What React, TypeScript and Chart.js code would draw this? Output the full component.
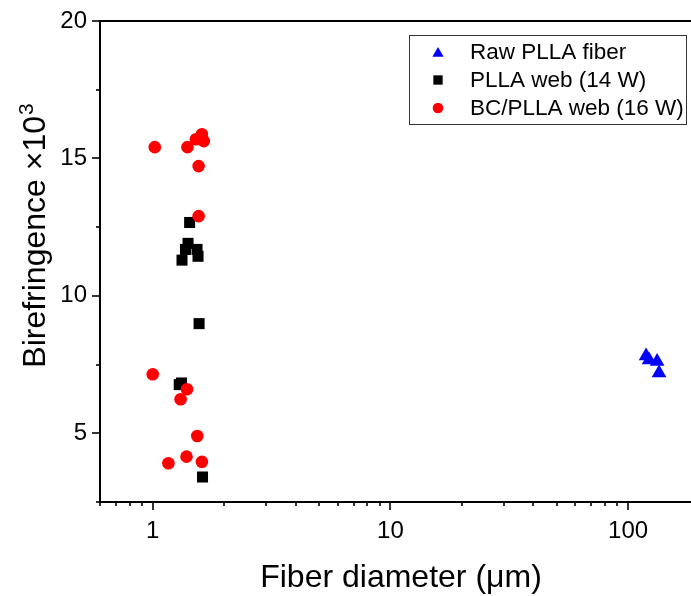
import React, { useEffect, useRef } from 'react';
import { Chart, registerables } from 'chart.js';

Chart.register(...registerables);

// ---- data ----
const rawLabel = 'Raw PLLA fiber';
const rawX = [119.1, 122.6, 132.5, 135.0];
const rawY = [7.81, 7.67, 7.61, 7.19];

const webLabel = 'PLLA web (14 W)';
const webX = [1.43, 1.408, 1.373, 1.536, 1.328, 1.551, 1.567, 1.321, 1.293, 1.62];
const webY = [12.67, 11.91, 11.69, 11.69, 11.3, 11.44, 8.99, 6.83, 6.77, 3.41];

const bcLabel = 'BC/PLLA web (16 W)';
const bcX = [1.02, 1.4, 1.52, 1.61, 1.64, 1.56, 1.56, 1.0, 1.394, 1.31, 1.54, 1.387, 1.164, 1.61];
const bcY = [15.41, 15.41, 15.7, 15.88, 15.63, 14.72, 12.9, 7.15, 6.6, 6.24, 4.9, 4.15, 3.91, 3.96];

const xMajorTicks = [1, 10, 100];
const xMinorTicks = [0.6, 0.7, 0.8, 0.9, 2, 3, 4, 5, 6, 7, 8, 9, 20, 30, 40, 50, 60, 70, 80, 90];
const yMajorTicks = [5, 10, 15, 20];
const yMinorTicks = [2.5, 7.5, 12.5, 17.5];
const xMin = 0.6;
const xMax = 184;
const yMin = 2.5;
const yMax = 20;

const xTitle = 'Fiber diameter (\u03BCm)';
const yTitle = 'Birefringence \u00D710';
const yTitleSup = '3';

const FONT = '"Liberation Sans", Arial, sans-serif';

function drawMarker(ctx: CanvasRenderingContext2D, style: string, x: number, y: number, r: number, color: string) {
  ctx.fillStyle = color;
  ctx.beginPath();
  if (style === 'triangle') {
    ctx.moveTo(x, y - r);
    ctx.lineTo(x + r * Math.sin((2 * Math.PI) / 3), y - r * Math.cos((2 * Math.PI) / 3));
    ctx.lineTo(x + r * Math.sin((4 * Math.PI) / 3), y - r * Math.cos((4 * Math.PI) / 3));
    ctx.closePath();
  } else if (style === 'rect') {
    const s = r * Math.SQRT1_2;
    ctx.rect(x - s, y - s, 2 * s, 2 * s);
  } else {
    ctx.arc(x, y, r, 0, Math.PI * 2);
  }
  ctx.fill();
}

const decorPlugin = {
  id: 'decor',
  afterDraw(chart: any) {
    const ctx: CanvasRenderingContext2D = chart.ctx;
    const { left, right, top, bottom } = chart.chartArea;
    const xs = chart.scales.x;
    const ys = chart.scales.y;
    ctx.save();
    ctx.strokeStyle = '#000';
    // top frame line
    ctx.lineWidth = 2;
    ctx.beginPath();
    ctx.moveTo(left - 1, top);
    ctx.lineTo(right, top);
    ctx.stroke();

    // tick marks
    ctx.lineWidth = 1.6;
    const xTick = (v: number, len: number) => {
      if (v < xMin - 1e-9 || v > xMax) return;
      const p = Math.round(xs.getPixelForValue(v));
      ctx.beginPath();
      ctx.moveTo(p, bottom);
      ctx.lineTo(p, bottom + len);
      ctx.stroke();
    };
    const yTick = (v: number, len: number) => {
      const p = Math.round(ys.getPixelForValue(v));
      ctx.beginPath();
      ctx.moveTo(left, p);
      ctx.lineTo(left - len, p);
      ctx.stroke();
    };
    xMajorTicks.forEach((v) => xTick(v, 8));
    xMinorTicks.forEach((v) => xTick(v, 4));
    yMajorTicks.forEach((v) => yTick(v, 8));
    yMinorTicks.forEach((v) => yTick(v, 4));

    // axis titles
    ctx.fillStyle = '#000';
    ctx.font = `32px ${FONT}`;
    ctx.textAlign = 'center';
    ctx.textBaseline = 'alphabetic';
    ctx.fillText(xTitle, 401, 587);

    ctx.save();
    ctx.translate(45, 236);
    ctx.rotate(-Math.PI / 2);
    ctx.textAlign = 'left';
    ctx.font = `32px ${FONT}`;
    const w1 = ctx.measureText(yTitle).width;
    ctx.font = `21px ${FONT}`;
    const w2 = ctx.measureText(yTitleSup).width;
    const start = -(w1 + w2) / 2;
    ctx.font = `32px ${FONT}`;
    ctx.fillText(yTitle, start, 0);
    ctx.font = `21px ${FONT}`;
    ctx.fillText(yTitleSup, start + w1 + 1, -12);
    ctx.restore();

    // legend
    ctx.lineWidth = 1;
    ctx.strokeStyle = '#333';
    ctx.strokeRect(409.5, 35.5, 277, 89);
    const rows = [52, 80, 108];
    ctx.font = `22.5px ${FONT}`;
    ctx.textAlign = 'left';
    ctx.textBaseline = 'middle';
    chart.data.datasets.forEach((ds: any, i: number) => {
      const y = rows[i];
      const r = ds.pointStyle === 'rect' ? 6.6 : ds.pointStyle === 'triangle' ? 6.5 : 5.3;
      drawMarker(ctx, ds.pointStyle, 438, y + (ds.pointStyle === 'triangle' ? 1.5 : 0), r, ds.backgroundColor);
      ctx.fillStyle = '#000';
      ctx.fillText(ds.label, 470, y + 1);
    });
    ctx.restore();
  },
};

export default function App() {
  const ref = useRef<HTMLCanvasElement>(null);
  useEffect(() => {
    if (!ref.current) return;
    const pts = (xs: number[], ys: number[]) => xs.map((x, i) => ({ x, y: ys[i] }));
    const chart = new Chart(ref.current, {
      type: 'scatter',
      data: {
        datasets: [
          {
            label: rawLabel,
            data: pts(rawX, rawY),
            pointStyle: 'triangle',
            pointRadius: 8.5,
            backgroundColor: '#0000ff',
            pointBackgroundColor: '#0000ff',
            pointBorderWidth: 0,
            borderWidth: 0,
            order: 2,
          },
          {
            label: webLabel,
            data: pts(webX, webY),
            pointStyle: 'rect',
            pointRadius: 7.8,
            backgroundColor: '#000000',
            pointBackgroundColor: '#000000',
            pointBorderWidth: 0,
            borderWidth: 0,
            order: 1,
          },
          {
            label: bcLabel,
            data: pts(bcX, bcY),
            pointStyle: 'circle',
            pointRadius: 6.3,
            backgroundColor: '#ff0000',
            pointBackgroundColor: '#ff0000',
            pointBorderWidth: 0,
            borderWidth: 0,
            order: 0,
          },
        ],
      } as any,
      options: {
        animation: false,
        responsive: false,
        events: [],
        layout: { autoPadding: false, padding: { top: 21, left: 0, right: 0, bottom: 0 } },
        plugins: { legend: { display: false }, tooltip: { enabled: false } },
        scales: {
          x: {
            type: 'logarithmic',
            position: 'bottom',
            min: xMin,
            max: xMax,
            grid: { display: false, drawTicks: false },
            border: { display: true, color: '#000', width: 2 },
            ticks: {
              color: '#000',
              font: { size: 24, family: FONT },
              padding: 15,
              autoSkip: false,
              maxRotation: 0,
              callback: (v: any) => String(v),
            },
            afterBuildTicks: (s: any) => {
              s.ticks = xMajorTicks.map((v) => ({ value: v }));
            },
            afterFit: (s: any) => {
              s.height = 94;
              s.paddingLeft = 0;
              s.paddingRight = 0;
              s.paddingTop = 0;
              s.paddingBottom = 0;
            },
          },
          y: {
            type: 'linear',
            position: 'left',
            min: yMin,
            max: yMax,
            grid: { display: false, drawTicks: false },
            border: { display: true, color: '#000', width: 2 },
            ticks: {
              color: '#000',
              font: { size: 24, family: FONT },
              padding: 13,
              autoSkip: false,
              callback: (v: any) => String(v),
            },
            afterBuildTicks: (s: any) => {
              s.ticks = yMajorTicks.map((v) => ({ value: v }));
            },
            afterFit: (s: any) => {
              s.width = 100;
              s.paddingLeft = 0;
              s.paddingRight = 0;
              s.paddingTop = 0;
              s.paddingBottom = 0;
            },
          },
        },
      } as any,
      plugins: [decorPlugin],
    });
    return () => chart.destroy();
  }, []);
  return (
    <canvas
      ref={ref}
      width={691}
      height={596}
      style={{ position: 'absolute', left: 0, top: 0, display: 'block', background: '#fff' }}
    />
  );
}
